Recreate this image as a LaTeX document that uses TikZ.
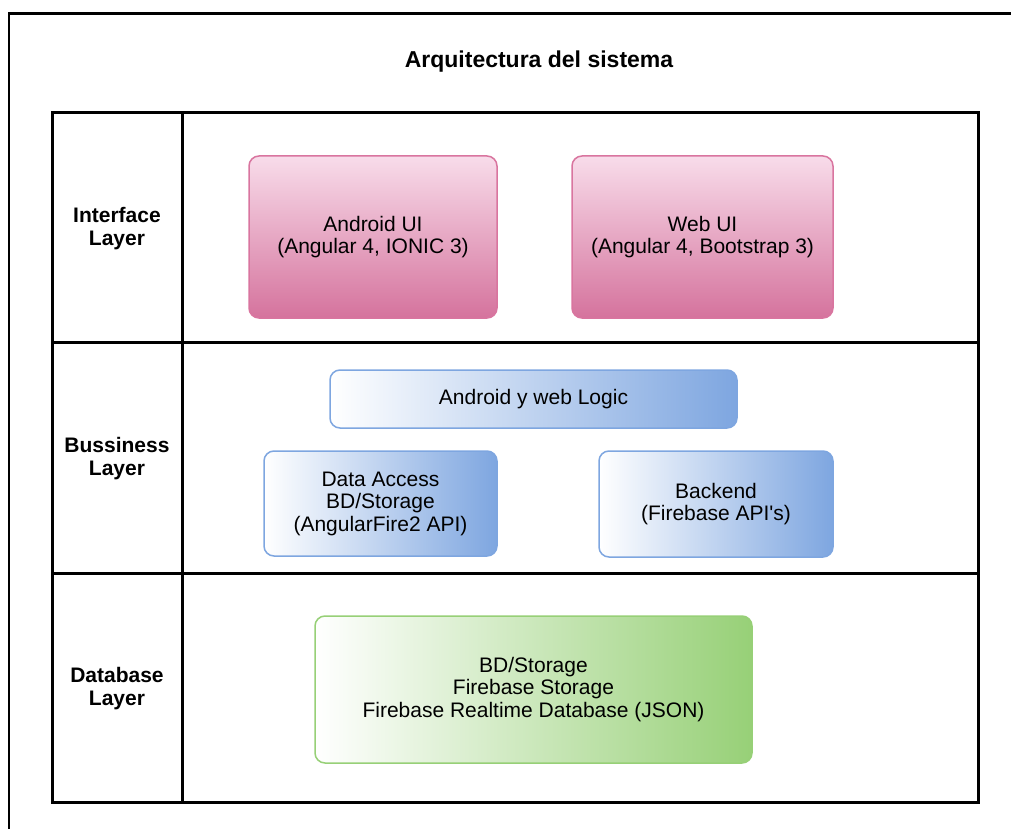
\documentclass[tikz,border=0pt]{standalone}
\usepackage{fontspec}
\setmainfont{Liberation Sans}[Ligatures=TeXOff]
\definecolor{pinktop}{HTML}{F8DCEA}
\definecolor{pinkbot}{HTML}{D5739D}
\definecolor{pinkline}{HTML}{D9759F}
\definecolor{blueend}{HTML}{7EA6E0}
\definecolor{greenend}{HTML}{97D077}
\tikzset{
  txt/.style={font=\fontsize{21}{22.5}\selectfont, align=center, text=black},
  lbl/.style={font=\fontsize{21}{23}\selectfont\bfseries, align=center},
  box/.style={rounded corners=10pt, line width=1.5pt, txt, inner sep=0pt},
  pinkbox/.style={box, draw=pinkline, top color=pinktop, bottom color=pinkbot},
  bluebox/.style={box, draw=blueend, left color=white, right color=blueend},
  greenbox/.style={box, draw=greenend, left color=white, right color=greenend},
  grid/.style={line width=3pt, black},
}
\begin{document}
\begin{tikzpicture}[x=1pt,y=-1pt]
\useasboundingbox (0,0) rectangle (1011,829);
% outer frame (partially visible)
\draw[line width=1.5pt] (9,829) -- (9,14);
\draw[line width=3pt] (8.25,14) -- (1011,14);
\node[font=\fontsize{23}{26}\selectfont\bfseries] (title) at (539,61.5) {Arquitectura del sistema};
% table
\draw[grid] (52,113) rectangle (978,802);
\draw[grid] (182,113) -- (182,802);
\draw[grid] (52,342) -- (978,342);
\draw[grid] (52,573) -- (978,573);
\node[lbl] (l1) at (117,229) {Interface\\Layer};
\node[lbl] (l2) at (117,459) {Bussiness\\Layer};
\node[lbl] (l3) at (117,689) {Database\\Layer};
% interface layer
\node[pinkbox, minimum width=248pt, minimum height=162pt] (android) at (373,237) {Android UI\\(Angular 4, IONIC 3)};
\node[pinkbox, minimum width=261pt, minimum height=162pt] (web) at (702.5,237) {Web UI\\(Angular 4, Bootstrap 3)};
% business layer
\node[bluebox, minimum width=407pt, minimum height=58pt] (logic) at (533.5,399) {Android y web Logic};
\node[bluebox, minimum width=233pt, minimum height=105pt] (data) at (380.5,503.5) {Data Access\\BD/Storage\\(AngularFire2 API)};
\node[bluebox, minimum width=234pt, minimum height=106pt] (backend) at (716,504) {Backend\\(Firebase API's)};
% database layer
\node[greenbox, minimum width=437pt, minimum height=147pt] (db) at (533.5,689.5) {BD/Storage\\Firebase Storage\\Firebase Realtime Database (JSON)};
\end{tikzpicture}
\end{document}
